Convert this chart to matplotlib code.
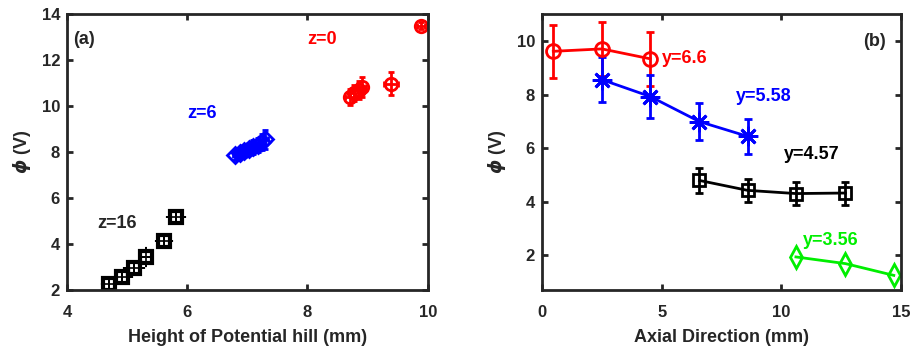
import matplotlib
matplotlib.use("Agg")
import matplotlib.pyplot as plt

plt.rcParams['font.family'] = ['Liberation Sans', 'DejaVu Sans']
plt.rcParams['font.weight'] = 'bold'
plt.rcParams['axes.labelweight'] = 'bold'
plt.rcParams['text.color'] = '#262626'
plt.rcParams['axes.labelcolor'] = '#262626'

# panel (a): potential vs height of potential hill
z0_x = [8.70, 8.78, 8.86, 8.90, 9.39, 9.89]
z0_y = [10.40, 10.55, 10.70, 10.82, 10.96, 13.48]
z0_yerr = [0.35, 0.35, 0.4, 0.45, 0.5, 0.15]
z0_xerr = [0.08, 0.08, 0.08, 0.08, 0.12, 0.06]

z6_x = [6.80, 6.87, 6.95, 7.02, 7.10, 7.17, 7.25, 7.30]
z6_y = [7.87, 7.95, 8.05, 8.13, 8.22, 8.32, 8.42, 8.55]
z6_yerr = [0.2, 0.2, 0.25, 0.25, 0.3, 0.3, 0.35, 0.4]

z16_x = [4.70, 4.91, 5.11, 5.31, 5.61, 5.81]
z16_y = [2.26, 2.58, 2.94, 3.42, 4.14, 5.19]
z16_xerr = [0.10, 0.15, 0.15, 0.05, 0.12, 0.13]
z16_yerr = [0.1, 0.1, 0.1, 0.35, 0.1, 0.1]

# panel (b): potential along axial direction
y66_x = [0.47, 2.50, 4.52]
y66_y = [9.63, 9.72, 9.35]
y66_err = [1.0, 1.0, 1.0]

y558_x = [2.50, 4.52, 6.58, 8.59]
y558_y = [8.57, 7.94, 7.00, 6.45]
y558_err = [0.85, 0.8, 0.7, 0.65]

y457_x = [6.58, 8.59, 10.61, 12.68]
y457_y = [4.80, 4.43, 4.31, 4.33]
y457_err = [0.47, 0.44, 0.43, 0.43]

y356_x = [10.61, 12.68, 14.70]
y356_y = [1.94, 1.69, 1.25]

fig = plt.figure(figsize=(9.11, 3.47), dpi=100)
ax1 = fig.add_axes([0.0735, 0.164, 0.396, 0.796])
ax2 = fig.add_axes([0.595, 0.164, 0.394, 0.796])

ms = 9
ax1.errorbar(z0_x, z0_y, yerr=z0_yerr, xerr=z0_xerr, fmt='o', color='red',
             mfc='none', mew=2, ms=ms, elinewidth=2, capsize=2)
ax1.errorbar(z6_x, z6_y, yerr=z6_yerr, xerr=0.04, fmt='D', color='blue',
             mfc='none', mew=2, ms=ms - 1, elinewidth=2, capsize=2)
ax1.errorbar(z16_x, z16_y, yerr=z16_yerr, xerr=z16_xerr, fmt='s', color='black',
             mfc='none', mew=3, ms=ms, elinewidth=1.2, capsize=1)

fs = 13
ax1.text(4.1, 12.87, '(a)', fontsize=fs, fontweight='bold', va='center')
ax1.text(8.0, 12.9, 'z=0', fontsize=fs, fontweight='bold', color='red', va='center')
ax1.text(6.0, 9.68, 'z=6', fontsize=fs, fontweight='bold', color='blue', va='center')
ax1.text(4.5, 4.9, 'z=16', fontsize=fs, fontweight='bold', va='center')

ax1.set_xlim(4, 10)
ax1.set_ylim(2, 14)
ax1.set_xticks([4, 6, 8, 10])
ax1.set_yticks([2, 4, 6, 8, 10, 12, 14])
ax1.set_xlabel('Height of Potential hill (mm)', fontsize=13, labelpad=6)
ax1.set_ylabel(r'$\phi$ (V)', fontsize=13, labelpad=6)

star = (8, 2, 0)
ax2.errorbar(y66_x, y66_y, yerr=y66_err, fmt='-o', color='red', mfc='none',
             mew=2, ms=10, lw=2, elinewidth=2, capsize=3)
ax2.errorbar(y558_x, y558_y, yerr=y558_err, fmt='-', marker=star, color='blue',
             mew=2, ms=14, lw=2, elinewidth=2, capsize=3)
ax2.errorbar(y457_x, y457_y, yerr=y457_err, fmt='-s', color='black', mfc='none',
             mew=2, ms=9, lw=2, elinewidth=2, capsize=3)
ax2.plot(y356_x, y356_y, '-d', color='#00ee00', mfc='none', mew=2, ms=11, lw=2)

ax2.text(5.0, 9.35, 'y=6.6', fontsize=fs, fontweight='bold', color='red', va='center')
ax2.text(8.1, 7.95, 'y=5.58', fontsize=fs, fontweight='bold', color='blue', va='center')
ax2.text(10.1, 5.78, 'y=4.57', fontsize=fs, fontweight='bold', color='black', va='center')
ax2.text(10.9, 2.55, 'y=3.56', fontsize=fs, fontweight='bold', color='#00ee00', va='center')
ax2.text(13.4, 10.0, '(b)', fontsize=fs, fontweight='bold', va='center')

ax2.set_xlim(0, 15)
ax2.set_ylim(0.7, 11.03)
ax2.set_xticks([0, 5, 10, 15])
ax2.set_yticks([2, 4, 6, 8, 10])
ax2.set_xlabel('Axial Direction (mm)', fontsize=13, labelpad=6)
ax2.set_ylabel(r'$\phi$ (V)', fontsize=13, labelpad=6)

for ax in (ax1, ax2):
    for s in ax.spines.values():
        s.set_linewidth(2)
        s.set_color('#262626')
    ax.tick_params(direction='in', top=True, right=True, width=2, length=4,
                   labelsize=12, colors='#262626')
    ax.tick_params(axis='x', pad=11)
    ax.tick_params(axis='y', pad=5)
    for lab in ax.get_xticklabels() + ax.get_yticklabels():
        lab.set_fontweight('bold')

fig.savefig('out.png', dpi=100)
